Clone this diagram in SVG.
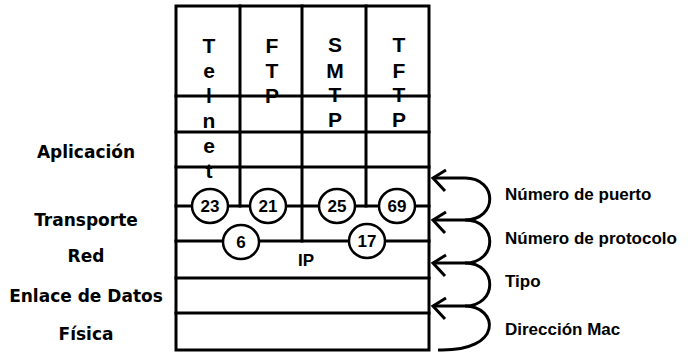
<svg xmlns="http://www.w3.org/2000/svg" width="688" height="353" viewBox="0 0 688 353">
  <style>
    .frame { fill: none; stroke: #000; stroke-width: 3; stroke-linecap: square; }
    .port { fill: #fff; stroke: #000; stroke-width: 2.5; }
    .num { font-family: "Liberation Sans", Arial, sans-serif; font-weight: bold; font-size: 17px; text-anchor: middle; fill: #000; }
    .stack { font-family: "Liberation Sans", Arial, sans-serif; font-weight: bold; font-size: 21px; text-anchor: middle; fill: #000; }
    .layer { font-family: "DejaVu Sans", sans-serif; font-weight: bold; font-size: 17px; text-anchor: middle; fill: #000; }
    .field { font-family: "Liberation Sans", Arial, sans-serif; font-weight: bold; font-size: 17px; fill: #000; }
    .link { fill: none; stroke: #000; stroke-width: 3; marker-end: url(#head); }
  </style>
  <defs>
    <marker id="head" markerUnits="userSpaceOnUse" viewBox="-16 -16 20 28" refX="0" refY="0" markerWidth="20" markerHeight="28" orient="auto" overflow="visible">
      <path d="M -12 -13 L 0 0 L -13 8" fill="none" stroke="#000" stroke-width="3" stroke-linejoin="miter"/>
    </marker>
  </defs>
  <rect width="688" height="353" fill="#fff"/>

  <!-- protocol stack grid -->
  <g id="grid">
    <rect class="frame" x="176" y="6" width="253" height="344"/>
    <line class="frame" x1="176" y1="96" x2="429" y2="96"/>
    <line class="frame" x1="176" y1="132" x2="429" y2="132"/>
    <line class="frame" x1="176" y1="167" x2="429" y2="167"/>
    <line class="frame" x1="176" y1="206" x2="429" y2="206"/>
    <line class="frame" x1="176" y1="241" x2="429" y2="241"/>
    <line class="frame" x1="176" y1="278" x2="429" y2="278"/>
    <line class="frame" x1="176" y1="313" x2="429" y2="313"/>
    <line class="frame" x1="240" y1="6" x2="240" y2="206"/>
    <line class="frame" x1="302" y1="6" x2="302" y2="241"/>
    <line class="frame" x1="366" y1="6" x2="366" y2="206"/>
  </g>

  <!-- application protocols, written vertically -->
  <g id="telnet">
    <text class="stack" x="209" y="53">T</text>
    <text class="stack" x="209" y="78">e</text>
    <text class="stack" x="209" y="103">l</text>
    <text class="stack" x="209" y="128">n</text>
    <text class="stack" x="209" y="153">e</text>
    <text class="stack" x="209" y="178">t</text>
  </g>
  <g id="ftp">
    <text class="stack" x="272" y="53">F</text>
    <text class="stack" x="272" y="78">T</text>
    <text class="stack" x="272" y="103">P</text>
  </g>
  <g id="smtp">
    <text class="stack" x="335" y="52">S</text>
    <text class="stack" x="335" y="78">M</text>
    <text class="stack" x="335" y="102">T</text>
    <text class="stack" x="335" y="127">P</text>
  </g>
  <g id="tftp">
    <text class="stack" x="399" y="52">T</text>
    <text class="stack" x="399" y="78">F</text>
    <text class="stack" x="399" y="102">T</text>
    <text class="stack" x="399" y="127">P</text>
  </g>

  <!-- port numbers -->
  <g id="port-23"><ellipse class="port" cx="210" cy="206" rx="18" ry="17"/><text class="num" x="210" y="212">23</text></g>
  <g id="port-21"><ellipse class="port" cx="268" cy="206" rx="18" ry="17"/><text class="num" x="268" y="212">21</text></g>
  <g id="port-25"><ellipse class="port" cx="337" cy="206" rx="18" ry="17"/><text class="num" x="337" y="212">25</text></g>
  <g id="port-69"><ellipse class="port" cx="397" cy="206" rx="18" ry="17"/><text class="num" x="397" y="212">69</text></g>

  <!-- protocol numbers -->
  <g id="proto-6"><ellipse class="port" cx="241" cy="242" rx="18" ry="17"/><text class="num" x="241" y="248">6</text></g>
  <g id="proto-17"><ellipse class="port" cx="367" cy="241" rx="18" ry="17"/><text class="num" x="367" y="247">17</text></g>

  <g id="ip"><text class="num" x="306" y="266">IP</text></g>

  <!-- layer names -->
  <g id="layers">
    <text class="layer" x="86" y="158">Aplicación</text>
    <text class="layer" x="86" y="226">Transporte</text>
    <text class="layer" x="86" y="262">Red</text>
    <text class="layer" x="86" y="302">Enlace de Datos</text>
    <text class="layer" x="86" y="340">Física</text>
  </g>

  <!-- demultiplexing arrows -->
  <g id="connectors">
    <path class="link" d="M 465 220 C 498 220 498 178 465 178 L 433 178"/>
    <path class="link" d="M 465 263 C 498 263 498 220 465 220 L 433 220"/>
    <path class="link" d="M 465 306 C 498 306 498 263 465 263 L 433 263"/>
    <path class="link" d="M 438 350 C 505 352 498 306 465 306 L 433 306"/>
  </g>

  <g id="fields">
    <text class="field" x="505" y="200">Número de puerto</text>
    <text class="field" x="505" y="244">Número de protocolo</text>
    <text class="field" x="505" y="287">Tipo</text>
    <text class="field" x="505" y="335">Dirección Mac</text>
  </g>
</svg>
